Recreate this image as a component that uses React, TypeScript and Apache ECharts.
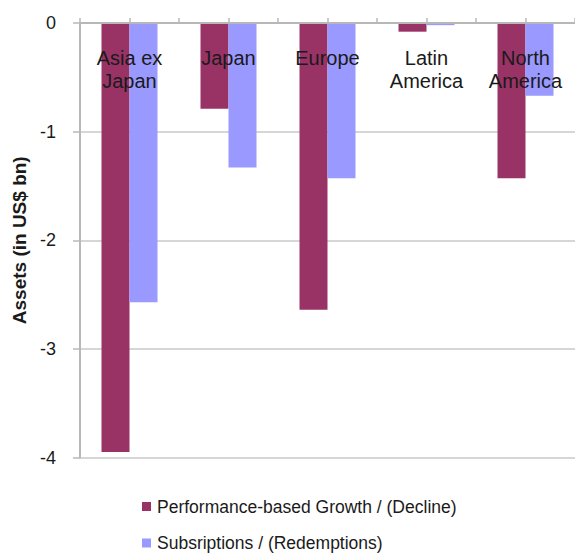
import React, { useEffect, useRef } from "react";
import * as echarts from "echarts";

const categories = ["Asia ex\nJapan", "Japan", "Europe", "Latin\nAmerica", "North\nAmerica"];
const performance = [-3.95, -0.79, -2.64, -0.08, -1.43];
const subscriptions = [-2.57, -1.33, -1.43, -0.02, -0.67];
const seriesNames = ["Performance-based Growth / (Decline)", "Subsriptions / (Redemptions)"];
const yTicks = [0, -1, -2, -3, -4];

export default function App() {
  const ref = useRef<HTMLDivElement>(null);
  useEffect(() => {
    if (!ref.current) return;
    const chart = echarts.init(ref.current, null, { renderer: "svg" });
    const font = "'Liberation Sans', Arial, sans-serif";
    const legendBase = {
      orient: "vertical",
      left: 142,
      padding: 0,
      itemWidth: 9,
      itemHeight: 9,
      itemGap: 6,
      icon: "rect",
      textStyle: { fontSize: 17.5, lineHeight: 17, color: "#1a1a1a", fontFamily: font, padding: [0, 0, 0, 1] },
    };
    chart.setOption({
      animation: false,
      backgroundColor: "#ffffff",
      textStyle: { fontFamily: font },
      grid: { left: 80, top: 23, width: 500, height: 434.5, containLabel: false },
      legend: [
        { ...legendBase, top: 497.5, data: [seriesNames[0]] },
        { ...legendBase, top: 534, data: [seriesNames[1]] },
      ],
      xAxis: [
        {
          type: "category",
          data: categories,
          position: "top",
          axisLine: { show: true, lineStyle: { color: "#b8b8b8", width: 2 } },
          axisTick: { show: true, inside: false, length: 5, lineStyle: { color: "#b8b8b8", width: 1.5 } },
          axisLabel: {
            inside: true,
            margin: 23,
            fontSize: 20,
            lineHeight: 23,
            color: "#1a1a1a",
            fontFamily: font,
            verticalAlign: "top",
          },
          z: 10,
        },
        {
          type: "category",
          data: categories,
          position: "top",
          axisLine: { show: false },
          axisTick: { show: true, alignWithLabel: true, length: 5, lineStyle: { color: "#b8b8b8", width: 1.5 } },
          axisLabel: { show: false },
        },
      ],
      yAxis: {
        type: "value",
        min: -4,
        max: 0,
        interval: 1,
        name: "Assets (in US$ bn)",
        nameLocation: "middle",
        nameGap: 49,
        nameTextStyle: { fontSize: 19, fontWeight: "bold", color: "#1a1a1a", fontFamily: font },
        axisLine: { show: true, lineStyle: { color: "#b8b8b8", width: 2 } },
        axisTick: { show: true, length: 7, lineStyle: { color: "#b8b8b8", width: 1.5 } },
        splitLine: { show: true, lineStyle: { color: "#c8c8c8", width: 1.5 } },
        axisLabel: {
          fontSize: 18,
          color: "#1a1a1a",
          margin: 24,
          fontFamily: font,
          formatter: (v: number) => (yTicks.includes(v) ? String(v) : ""),
        },
      },
      series: [
        {
          name: seriesNames[0],
          type: "bar",
          data: performance,
          barWidth: 28,
          barGap: "0%",
          itemStyle: { color: "#993366" },
        },
        {
          name: seriesNames[1],
          type: "bar",
          data: subscriptions,
          barWidth: 28,
          barGap: "0%",
          itemStyle: { color: "#9999ff" },
        },
      ],
    });
    return () => chart.dispose();
  }, []);
  return <div ref={ref} style={{ width: 575, height: 553, position: "absolute", left: 0, top: 0 }} />;
}
